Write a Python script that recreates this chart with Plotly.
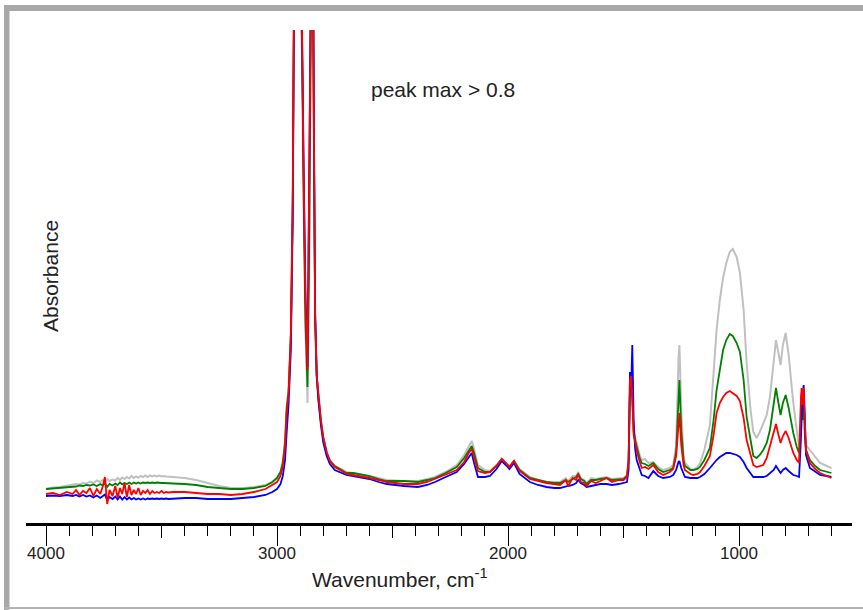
import plotly.graph_objects as go

wavenumber = [4000,3970,3940,3910,3885,3870,3855,3840,3825,3810,3795,3780,3765,3755,3745,3735,3725,3712,3700,3690,
              3680,3670,3660,3650,3640,3630,3620,3610,3600,3590,3580,3570,3560,3550,3540,3530,3520,3510,3500,3490,
              3480,3470,3450,
              3400,3350,3300,3250,3200,3150,3100,3050,3020,3000,2985,2975,2965,
              2958,2950,2940,2932,2928,2920,2910,2900,2892,2885,2877,2868,2860,2855,2850,2845,2840,2835,2828,2821,
              2810,2800,2785,2771,2750,2720,2700,2670,2640,2600,2560,2525,2450,2390,2350,2316,2270,2222,2190,2170,
              2157,2148,2140,2130,2100,2078,2050,2027,2005,1994,1974,1950,1905,1870,1833,1800,1775,1750,1740,1720,
              1705,1696,1685,1670,1660,1640,1620,1600,1573,1550,1520,1500,1485,1478,1472,1467,1462,1456,1450,1443,
              1430,1421,1407,1392,1371,1350,1328,1300,1285,1272,1262,1258,1250,1240,1234,1210,1198,1180,1169,1150,
              1126,1110,1097,1083,1069,1055,1040,1027,1010,996,980,967,950,938,924,910,895,880,866,850,
              840,830,820,810,798,785,765,750,740,732,729,725,720,715,710,693,670,649,620,600]

gray_abs = [.068,.071,.072,.074,.076,.078,.077,.080,.079,.083,.080,.085,.082,.086,.082,.088,.084,.087,.085,.090,
            .086,.091,.088,.092,.089,.094,.090,.093,.091,.094,.092,.095,.092,.095,.093,.095,.093,.095,.093,.094,
            .093,.093,.092,
            .090,.086,.080,.074,.070,.070,.072,.076,.082,.090,.102,.122,.166,
            .236,.270,.386,.646,.926,1.40,1.30,1.05,.95,.646,.386,.240,.546,.886,1.30,1.10,.746,.406,.290,.250,
            .206,.172,.142,.126,.114,.106,.102,.100,.098,.094,.090,.086,.084,.084,.088,.092,.102,.116,.136,.154,
            .164,.150,.136,.116,.106,.104,.116,.128,.118,.112,.124,.108,.092,.086,.082,.082,.082,.090,.084,.094,
            .094,.102,.090,.086,.080,.090,.088,.090,.092,.088,.090,.090,.096,.126,.256,.270,.246,.186,.170,.160,
            .136,.126,.128,.120,.122,.112,.106,.110,.116,.156,.326,.356,.226,.136,.120,.108,.106,.112,.120,.146,
            .196,.296,.386,.446,.490,.520,.542,.548,.532,.500,.426,.320,.226,.182,.170,.182,.200,.216,.252,.316,
            .366,.342,.316,.356,.380,.336,.240,.186,.154,.226,.262,.206,.256,.186,.156,.146,.132,.120,.114,.110]

green_abs = [.068,.069,.071,.071,.073,.073,.075,.074,.076,.075,.077,.074,.078,.075,.080,.072,.078,.075,.079,.076,
             .081,.077,.080,.078,.081,.078,.081,.079,.081,.079,.081,.080,.081,.080,.081,.080,.081,.080,.080,.080,
             .080,.079,.079,
             .078,.076,.072,.070,.068,.068,.070,.074,.082,.090,.102,.120,.162,
             .230,.262,.376,.626,.926,1.45,1.35,1.10,.97,.666,.406,.272,.586,.926,1.35,1.15,.746,.406,.290,.250,
             .202,.170,.140,.124,.114,.106,.100,.100,.098,.094,.088,.084,.084,.082,.086,.090,.100,.112,.130,.146,
             .154,.142,.126,.110,.102,.102,.114,.128,.118,.112,.124,.106,.090,.086,.082,.080,.080,.086,.082,.088,
             .092,.098,.088,.084,.078,.086,.086,.088,.090,.086,.088,.088,.094,.126,.266,.274,.250,.182,.166,.152,
             .130,.120,.118,.114,.120,.108,.102,.106,.110,.142,.256,.286,.186,.126,.114,.106,.106,.108,.112,.126,
             .150,.206,.266,.310,.346,.366,.378,.374,.360,.342,.286,.212,.162,.134,.130,.136,.146,.160,.186,.236,
             .270,.242,.216,.240,.256,.230,.180,.152,.140,.206,.256,.206,.246,.176,.146,.126,.114,.106,.102,.100]

red_abs = [.058,.060,.056,.062,.058,.066,.056,.064,.060,.070,.054,.068,.058,.072,.092,.038,.066,.054,.074,.050,
           .070,.058,.080,.052,.076,.056,.066,.058,.070,.056,.064,.060,.066,.058,.064,.060,.062,.060,.064,.060,
           .062,.061,.062,
           .062,.060,.058,.058,.056,.058,.062,.068,.076,.082,.094,.112,.154,
           .222,.254,.376,.646,.946,1.50,1.40,1.15,1.00,.706,.446,.306,.646,.966,1.40,1.20,.766,.416,.296,.254,
           .206,.172,.142,.124,.112,.104,.098,.096,.094,.090,.086,.082,.078,.078,.082,.088,.096,.106,.122,.140,
           .148,.130,.120,.104,.100,.102,.114,.128,.118,.112,.124,.104,.088,.084,.080,.078,.076,.086,.074,.090,
           .086,.098,.082,.080,.074,.084,.080,.084,.090,.082,.086,.086,.092,.122,.286,.294,.256,.176,.160,.146,
           .122,.110,.112,.108,.116,.102,.096,.102,.108,.134,.196,.220,.156,.116,.106,.098,.096,.098,.102,.114,
           .134,.176,.220,.240,.252,.260,.264,.260,.254,.244,.210,.166,.134,.116,.112,.114,.116,.130,.152,.182,
           .198,.178,.160,.174,.184,.170,.140,.126,.120,.246,.270,.236,.270,.206,.146,.120,.108,.100,.094,.090]

blue_abs = [.054,.055,.054,.056,.054,.056,.053,.056,.053,.055,.051,.055,.050,.054,.057,.045,.052,.048,.053,.047,
            .053,.047,.052,.047,.051,.047,.050,.047,.049,.047,.049,.047,.049,.048,.049,.048,.049,.048,.049,.048,
            .049,.048,.049,
            .050,.050,.048,.048,.048,.050,.052,.056,.062,.068,.078,.094,.126,
            .182,.236,.346,.606,.926,1.55,1.45,1.20,1.00,.726,.466,.312,.666,.986,1.45,1.25,.786,.426,.296,.246,
            .196,.162,.134,.118,.106,.100,.096,.094,.092,.088,.082,.078,.074,.072,.076,.082,.092,.102,.118,.132,
            .140,.122,.106,.092,.092,.094,.108,.124,.114,.108,.120,.098,.082,.076,.072,.070,.070,.072,.074,.076,
            .080,.086,.080,.076,.072,.074,.076,.078,.078,.076,.078,.080,.082,.106,.302,.266,.356,.206,.150,.126,
            .106,.096,.094,.090,.104,.094,.090,.092,.096,.106,.122,.124,.110,.098,.092,.090,.090,.090,.092,.098,
            .110,.120,.126,.132,.136,.140,.140,.138,.136,.132,.122,.110,.098,.092,.092,.092,.092,.094,.100,.106,
            .114,.106,.100,.106,.110,.104,.096,.094,.092,.166,.206,.256,.276,.186,.136,.110,.102,.096,.094,.092]

x_ticks_major = [4000, 3000, 2000, 1000]
x_ticks_half = [3500, 2500, 1500, 500]
x_range = [4086.6, 510.8]
y_range = [0, 0.986]

W, H = 863, 610
L, R, T, B = 26, 11, 30, 87
pw, ph = W - L - R, H - T - B


def px(xp):
    return (xp - L) / pw


def py(yp):
    return (H - B - yp) / ph


TEXT = "#222222"
FONT = "Liberation Sans, Arial, sans-serif"

fig = go.Figure()
for name, vals, col, w in [("gray", gray_abs, "#c0c0c0", 2),
                           ("green", green_abs, "#008000", 1.8),
                           ("blue", blue_abs, "#0000ff", 1.8),
                           ("red", red_abs, "#ff0000", 1.8)]:
    fig.add_trace(go.Scatter(x=wavenumber, y=vals, mode="lines", name=name,
                             line=dict(color=col, width=w), showlegend=False))

fig.add_trace(go.Scatter(x=[], y=[], xaxis="x2", yaxis="y", showlegend=False, hoverinfo="skip"))

fig.update_layout(
    width=W, height=H,
    margin=dict(l=L, r=R, t=T, b=B, pad=0),
    paper_bgcolor="white", plot_bgcolor="white",
    xaxis=dict(range=x_range, tickvals=x_ticks_major, ticktext=[str(v) for v in x_ticks_major],
               ticks="outside", ticklen=20, tickwidth=1.2, tickcolor="black",
               showline=True, linecolor="black", linewidth=2.5, showgrid=False, zeroline=False,
               ticklabelstandoff=-7,
               tickfont=dict(family=FONT, size=17, color=TEXT),
               minor=dict(dtick=100, tick0=0, ticks="outside", ticklen=10, tickwidth=1.2,
                          tickcolor="black", showgrid=False)),
    xaxis2=dict(range=x_range, overlaying="x", anchor="y", side="bottom",
                tickvals=x_ticks_half, ticks="outside", ticklen=14, tickwidth=1.2,
                tickcolor="black", showticklabels=False, showgrid=False, zeroline=False,
                showline=False),
    yaxis=dict(range=y_range, visible=False),
)

fig.add_annotation(text="Wavenumber, cm<sup>-1</sup>", xref="paper", yref="paper",
                   x=px(400), y=py(578), showarrow=False, xanchor="center", yanchor="middle",
                   font=dict(family=FONT, size=21, color=TEXT))
fig.add_annotation(text="Absorbance", xref="paper", yref="paper", textangle=-90,
                   x=px(50), y=py(276), showarrow=False, xanchor="center", yanchor="middle",
                   font=dict(family=FONT, size=21, color=TEXT))
fig.add_annotation(text="peak max > 0.8", xref="paper", yref="paper",
                   x=px(443), y=py(89), showarrow=False, xanchor="center", yanchor="middle",
                   font=dict(family=FONT, size=21, color=TEXT))

FRAME = "#a8a8a8"
fig.add_shape(type="rect", xref="paper", yref="paper", x0=px(4), x1=px(863), y0=py(5), y1=py(11),
              fillcolor=FRAME, line=dict(width=0), layer="above")
fig.add_shape(type="rect", xref="paper", yref="paper", x0=px(4), x1=px(9.5), y0=py(5), y1=py(610),
              fillcolor=FRAME, line=dict(width=0), layer="above")
fig.add_shape(type="rect", xref="paper", yref="paper", x0=px(4), x1=px(863), y0=py(607), y1=py(609),
              fillcolor="#b4b4b4", line=dict(width=0), layer="above")

fig.write_html("out.html", config={"displayModeBar": False},
               post_script="document.body.style.margin='0px';document.body.style.overflow='hidden';")
